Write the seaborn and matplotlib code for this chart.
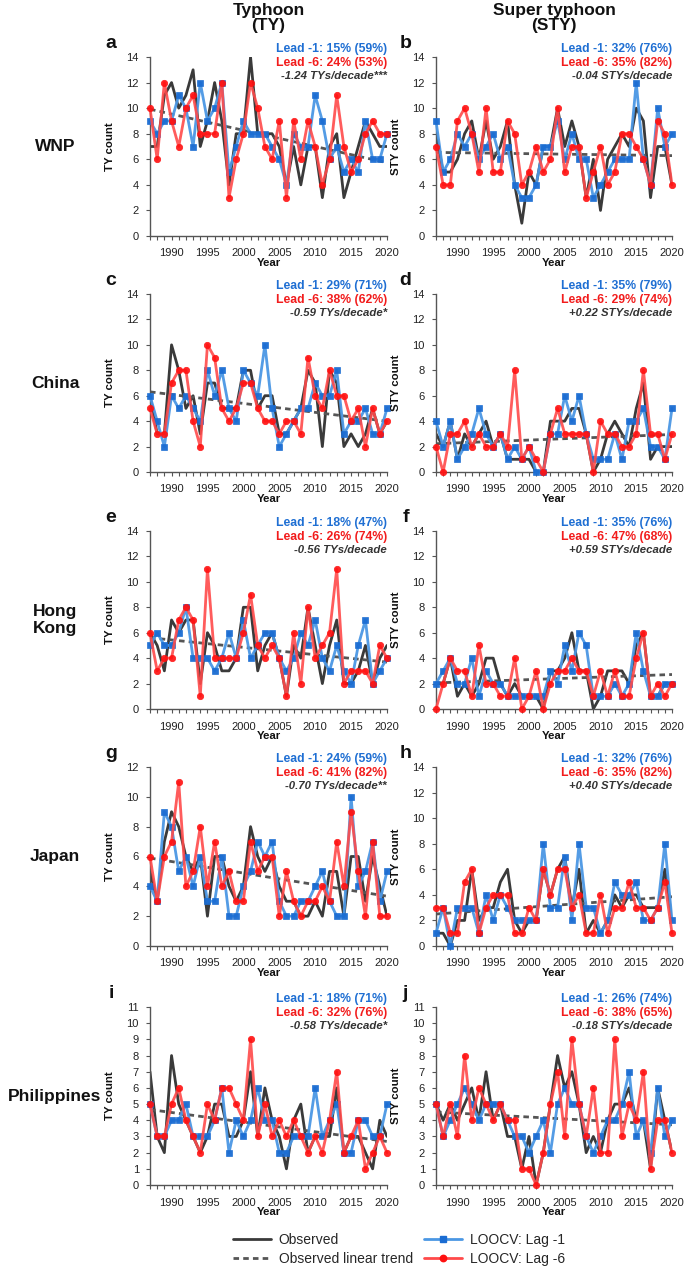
import numpy as np
import seaborn as sns
import matplotlib
matplotlib.use('Agg')
import matplotlib.pyplot as plt
from matplotlib.lines import Line2D
from matplotlib.ticker import MultipleLocator

years = np.arange(1987, 2021)

# WNP
wnp_ty_obs = [7, 7, 11, 12, 10, 11, 13, 7, 9, 12, 9, 4, 8, 8, 14, 8, 8, 8, 7, 4, 7, 4, 7, 7, 3, 7, 8, 3, 5, 7, 9, 8, 7, 7]
wnp_ty_lag1 = [9, 8, 9, 9, 11, 10, 7, 12, 9, 10, 12, 5, 7, 9, 8, 8, 8, 7, 6, 4, 8, 7, 7, 11, 9, 6, 7, 5, 6, 5, 9, 6, 6, 8]
wnp_ty_lag6 = [10, 6, 12, 9, 7, 10, 11, 8, 8, 8, 12, 3, 6, 8, 12, 10, 7, 6, 9, 3, 9, 6, 9, 7, 4, 6, 11, 7, 5, 6, 8, 9, 8, 8]
wnp_sty_obs = [8, 5, 5, 6, 8, 9, 6, 9, 6, 7, 9, 4, 1, 5, 4, 7, 7, 10, 7, 9, 7, 3, 6, 2, 6, 7, 8, 7, 10, 9, 3, 7, 7, 4]
wnp_sty_lag1 = [9, 5, 6, 8, 7, 8, 6, 7, 8, 6, 7, 4, 3, 3, 4, 7, 7, 9, 6, 8, 6, 6, 3, 4, 5, 6, 6, 6, 12, 6, 4, 10, 7, 8]
wnp_sty_lag6 = [7, 4, 4, 9, 10, 8, 5, 10, 5, 5, 9, 8, 4, 5, 7, 5, 6, 10, 5, 7, 7, 3, 5, 7, 4, 5, 8, 8, 7, 6, 4, 9, 8, 4]

# China
chn_ty_obs = [6, 3, 3, 10, 8, 5, 6, 3, 7, 7, 5, 5, 5, 8, 8, 5, 6, 6, 3, 3, 4, 5, 8, 7, 2, 8, 7, 2, 3, 2, 3, 5, 3, 4]
chn_ty_lag1 = [6, 4, 2, 6, 5, 6, 5, 4, 8, 6, 8, 5, 4, 8, 7, 6, 10, 5, 2, 3, 4, 5, 5, 7, 6, 6, 8, 3, 4, 4, 5, 3, 3, 5]
chn_ty_lag6 = [5, 3, 3, 7, 8, 8, 4, 2, 10, 9, 5, 4, 5, 7, 7, 5, 4, 4, 3, 4, 4, 3, 9, 6, 5, 8, 6, 6, 4, 5, 2, 5, 3, 4]
chn_sty_obs = [3, 2, 4, 1, 3, 2, 3, 4, 2, 3, 1, 1, 1, 1, 0, 0, 4, 4, 4, 5, 5, 3, 0, 1, 3, 4, 3, 2, 5, 7, 1, 2, 2, 2]
chn_sty_lag1 = [4, 2, 4, 1, 2, 3, 5, 3, 2, 3, 1, 2, 1, 2, 0, 0, 3, 3, 6, 4, 6, 3, 1, 1, 1, 3, 1, 4, 4, 5, 2, 2, 1, 5]
chn_sty_lag6 = [2, 0, 3, 3, 4, 2, 3, 2, 2, 3, 2, 8, 1, 2, 1, 0, 3, 5, 3, 3, 3, 3, 0, 4, 3, 3, 2, 2, 3, 8, 3, 3, 1, 3]

# Hong Kong
hk_ty_obs = [6, 5, 3, 7, 6, 7, 7, 2, 6, 5, 3, 3, 4, 8, 8, 3, 5, 6, 4, 1, 5, 4, 8, 5, 2, 5, 7, 2, 2, 3, 5, 2, 4, 5]
hk_ty_lag1 = [5, 6, 5, 5, 6, 8, 4, 4, 4, 3, 4, 6, 4, 7, 4, 5, 6, 6, 4, 3, 4, 6, 5, 7, 4, 3, 5, 3, 2, 5, 7, 2, 3, 4]
hk_ty_lag6 = [6, 3, 4, 4, 7, 8, 7, 1, 11, 4, 4, 4, 4, 6, 9, 5, 4, 5, 4, 1, 6, 2, 8, 4, 5, 6, 11, 2, 3, 3, 3, 2, 5, 4]
hk_sty_obs = [2, 2, 4, 1, 2, 1, 2, 4, 4, 2, 1, 2, 1, 1, 1, 0, 3, 3, 4, 6, 3, 3, 0, 1, 3, 3, 3, 2, 5, 6, 1, 1, 2, 2]
hk_sty_lag1 = [2, 3, 4, 2, 2, 4, 1, 3, 2, 2, 1, 1, 1, 1, 1, 1, 3, 2, 5, 3, 6, 5, 1, 1, 1, 2, 1, 2, 6, 3, 1, 1, 2, 2]
hk_sty_lag6 = [0, 2, 4, 3, 3, 1, 5, 2, 2, 1, 1, 4, 0, 1, 3, 0, 2, 3, 3, 4, 3, 3, 1, 3, 1, 3, 1, 1, 4, 6, 1, 2, 1, 2]

# Japan
jpn_ty_obs = [5, 3, 7, 9, 8, 6, 5, 6, 2, 6, 6, 4, 3, 4, 8, 6, 5, 6, 4, 3, 3, 2, 2, 3, 2, 5, 5, 2, 6, 6, 3, 6, 4, 2]
jpn_ty_lag1 = [4, 3, 9, 8, 5, 6, 4, 6, 3, 3, 6, 2, 2, 4, 5, 7, 6, 7, 3, 2, 2, 3, 3, 4, 5, 3, 2, 2, 10, 4, 5, 7, 3, 5]
jpn_ty_lag6 = [6, 3, 6, 7, 11, 4, 5, 8, 4, 7, 4, 5, 3, 3, 7, 5, 6, 6, 2, 5, 3, 2, 3, 3, 4, 3, 7, 4, 9, 5, 2, 7, 2, 2]
jpn_sty_obs = [1, 1, 0, 2, 2, 6, 2, 3, 3, 5, 6, 2, 1, 2, 2, 6, 4, 6, 7, 3, 6, 1, 2, 1, 2, 4, 3, 4, 4, 3, 3, 3, 6, 2]
jpn_sty_lag1 = [1, 3, 0, 3, 3, 3, 1, 4, 2, 4, 3, 2, 2, 2, 2, 8, 3, 3, 7, 2, 8, 3, 3, 1, 2, 5, 4, 4, 5, 2, 2, 3, 8, 2]
jpn_sty_lag6 = [3, 3, 1, 1, 5, 6, 1, 3, 4, 4, 4, 1, 1, 3, 2, 6, 4, 6, 6, 3, 4, 1, 1, 4, 1, 3, 3, 5, 3, 3, 2, 3, 5, 1]

# Philippines
phl_ty_obs = [7, 3, 2, 8, 5, 4, 3, 2, 3, 5, 5, 3, 3, 4, 7, 3, 6, 4, 3, 1, 4, 5, 2, 3, 3, 3, 6, 2, 3, 3, 2, 1, 4, 3]
phl_ty_lag1 = [5, 3, 3, 4, 4, 5, 3, 3, 3, 4, 6, 2, 4, 3, 4, 6, 4, 4, 2, 2, 3, 3, 3, 6, 3, 4, 5, 2, 2, 4, 4, 3, 3, 5]
phl_ty_lag6 = [5, 3, 3, 5, 6, 4, 3, 2, 5, 4, 6, 6, 5, 4, 9, 3, 5, 3, 4, 3, 4, 3, 2, 3, 2, 4, 7, 2, 3, 4, 1, 2, 3, 2]
phl_sty_obs = [5, 4, 5, 4, 5, 6, 4, 7, 4, 5, 3, 3, 1, 3, 0, 2, 5, 8, 6, 7, 5, 2, 3, 2, 4, 5, 5, 6, 4, 4, 1, 6, 4, 2]
phl_sty_lag1 = [5, 3, 4, 5, 6, 5, 4, 5, 5, 5, 4, 3, 3, 2, 3, 4, 2, 5, 6, 5, 5, 3, 2, 3, 4, 4, 5, 7, 3, 4, 2, 6, 3, 4]
phl_sty_lag6 = [5, 3, 5, 3, 8, 4, 6, 5, 4, 5, 4, 4, 1, 1, 0, 2, 5, 7, 3, 9, 5, 3, 6, 2, 2, 9, 3, 5, 4, 7, 1, 4, 4, 2]

regions = ['WNP', 'China', 'Hong\nKong', 'Japan', 'Philippines']
col_titles = ['Typhoon\n(TY)', 'Super typhoon\n(STY)']
panel_letters = ['a', 'b', 'c', 'd', 'e', 'f', 'g', 'h', 'i', 'j']
lead1_text = ['15% (59%)', '32% (76%)', '29% (71%)', '35% (79%)', '18% (47%)',
              '35% (76%)', '24% (59%)', '32% (76%)', '18% (71%)', '26% (74%)']
lead6_text = ['24% (53%)', '35% (82%)', '38% (62%)', '29% (74%)', '26% (74%)',
              '47% (68%)', '41% (82%)', '35% (82%)', '32% (76%)', '38% (65%)']
trend_text = ['-1.24 TYs/decade***', '-0.04 STYs/decade', '-0.59 TYs/decade*', '+0.22 STYs/decade',
              '-0.56 TYs/decade', '+0.59 STYs/decade', '-0.70 TYs/decade**', '+0.40 STYs/decade',
              '-0.58 TYs/decade*', '-0.18 STYs/decade']
ymax = [14, 14, 14, 14, 14, 14, 12, 14, 11, 11]

panels = [
    (wnp_ty_obs, wnp_ty_lag1, wnp_ty_lag6), (wnp_sty_obs, wnp_sty_lag1, wnp_sty_lag6),
    (chn_ty_obs, chn_ty_lag1, chn_ty_lag6), (chn_sty_obs, chn_sty_lag1, chn_sty_lag6),
    (hk_ty_obs, hk_ty_lag1, hk_ty_lag6), (hk_sty_obs, hk_sty_lag1, hk_sty_lag6),
    (jpn_ty_obs, jpn_ty_lag1, jpn_ty_lag6), (jpn_sty_obs, jpn_sty_lag1, jpn_sty_lag6),
    (phl_ty_obs, phl_ty_lag1, phl_ty_lag6), (phl_sty_obs, phl_sty_lag1, phl_sty_lag6),
]

OBS_C = '#3a3a3a'
TREND_C = '#555555'
BLUE_L = '#4b97e4'
BLUE_M = '#1a6cd2'
RED_L = '#ff4a4a'
RED_M = '#ff1010'
BLUE_T = '#1f6fd3'
RED_T = '#f21c1c'

LW = 2.0
MS_SQ = 4.4
MS_CI = 4.6
DASH = (0, (2.0, 1.5))

sns.set_style('ticks')
plt.rcParams['font.family'] = ['Liberation Sans', 'DejaVu Sans']

W, H = 685, 1273
fig = plt.figure(figsize=(W / 100, H / 100), dpi=100)

rows_px = [(57, 236), (294, 472), (531, 709), (767, 946), (1007, 1185)]
cols_px = [(150, 387), (436, 672)]

for k, (obs, lag1, lag6) in enumerate(panels):
    r, c = divmod(k, 2)
    y0, y1 = rows_px[r]
    x0, x1 = cols_px[c]
    ax = fig.add_axes([x0 / W, 1 - y1 / H, (x1 - x0) / W, (y1 - y0) / H])

    sns.lineplot(x=years, y=obs, ax=ax, color=OBS_C, lw=LW, errorbar=None, zorder=2)
    sns.regplot(x=years, y=obs, ax=ax, scatter=False, ci=None, truncate=True,
                line_kws=dict(color=TREND_C, lw=LW, ls=DASH, zorder=3))
    sns.lineplot(x=years, y=lag1, ax=ax, color=BLUE_L, lw=LW, errorbar=None, alpha=0.95,
                 marker='s', markersize=MS_SQ, markerfacecolor=BLUE_M,
                 markeredgecolor=BLUE_M, markeredgewidth=0.5, clip_on=False, zorder=4)
    sns.lineplot(x=years, y=lag6, ax=ax, color=RED_L, lw=LW, errorbar=None, alpha=0.9,
                 marker='o', markersize=MS_CI, markerfacecolor=RED_M,
                 markeredgecolor=RED_M, markeredgewidth=0.5, clip_on=False, zorder=5)

    ax.set_xlim(1987, 2020)
    ax.set_ylim(0, ymax[k])
    ax.xaxis.set_minor_locator(MultipleLocator(1))
    ax.yaxis.set_major_locator(MultipleLocator(2 if ymax[k] > 11 else 1))
    ax.set_xticks([1990, 1995, 2000, 2005, 2010, 2015, 2020])
    for s in ['top', 'right']:
        ax.spines[s].set_visible(False)
    for s in ['left', 'bottom']:
        ax.spines[s].set_color('#555555')
        ax.spines[s].set_linewidth(1.0)
    ax.tick_params(axis='both', which='both', direction='out', color='#555555',
                   labelsize=8, labelcolor='#222222', width=0.8)
    ax.tick_params(axis='x', which='both', length=3, pad=6)
    ax.tick_params(axis='y', which='major', length=3, pad=5)

    ax.set_xlabel('Year', fontsize=8.2, fontweight='bold', color='#111111')
    ax.xaxis.set_label_coords(0.5, -0.125)
    ax.set_ylabel(('TY' if c == 0 else 'STY') + ' count', fontsize=8.2, fontweight='bold',
                  color='#111111')
    ax.yaxis.set_label_coords(-35 / (x1 - x0), 0.5)

    ax.annotate('Lead -1: ' + lead1_text[k], xy=(1, 1), xycoords='axes fraction',
                xytext=(0, 6), textcoords='offset points', ha='right', va='center',
                fontsize=8.8, fontweight='bold', color=BLUE_T)
    ax.annotate('Lead -6: ' + lead6_text[k], xy=(1, 1), xycoords='axes fraction',
                xytext=(0, -4.3), textcoords='offset points', ha='right', va='center',
                fontsize=8.8, fontweight='bold', color=RED_T)
    ax.annotate(trend_text[k], xy=(1, 1), xycoords='axes fraction',
                xytext=(0, -13.8), textcoords='offset points', ha='right', va='center',
                fontsize=8.2, fontweight='bold', fontstyle='italic', color='#333333')
    ax.annotate(panel_letters[k], xy=(0, 1), xycoords='axes fraction',
                xytext=(-28 if c == 0 else -22, 10), textcoords='offset points',
                ha='center', va='center', fontsize=14, fontweight='bold', color='#111111')

    if c == 0:
        fig.text(55 / W, 1 - (y0 + y1) / 2 / H, regions[r], ha='center', va='center',
                 fontsize=12.5, fontweight='bold', color='#111111', linespacing=1.1)

# column headers
for c, (x0, x1) in enumerate(cols_px):
    fig.text((x0 + x1) / 2 / W, 1 - 18 / H, col_titles[c], ha='center', va='center',
             fontsize=12.5, fontweight='bold', color='#111111', linespacing=1.05)

handles = [
    Line2D([], [], color=OBS_C, lw=LW),
    Line2D([], [], color=TREND_C, lw=LW, ls=DASH),
    Line2D([], [], color=BLUE_L, lw=LW, marker='s', markersize=MS_SQ,
           markerfacecolor=BLUE_M, markeredgecolor=BLUE_M),
    Line2D([], [], color=RED_L, lw=LW, marker='o', markersize=MS_CI,
           markerfacecolor=RED_M, markeredgecolor=RED_M),
]
labels = ['Observed', 'Observed linear trend', 'LOOCV: Lag -1', 'LOOCV: Lag -6']
fig.legend(handles, labels, loc='upper left', bbox_to_anchor=(233 / W, 1 - 1233 / H),
           ncol=2, frameon=False, fontsize=10, handlelength=2.7, handletextpad=0.6,
           columnspacing=0.8, labelspacing=0.35, borderpad=0, borderaxespad=0)

fig.savefig('out.png', dpi=100, facecolor='white')
plt.close(fig)
